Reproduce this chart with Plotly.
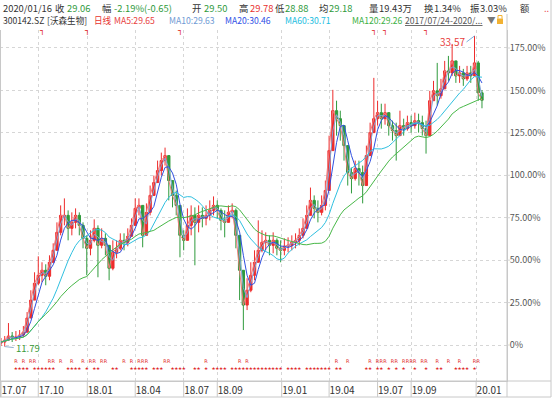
import pandas as pd
import plotly.graph_objects as go

# ---------------- data (weekly approximations) ----------------
BASE = 11.90  # reference price for the % axis
week_start = "2017-07-24"
n_weeks = 130

opens = [12.04, 12.11, 12.25, 12.53, 12.39, 12.46, 12.60, 12.81, 13.79, 15.05,
         16.23, 16.79, 17.14, 16.72, 17.70, 18.54, 19.80, 20.85, 20.99, 20.08,
         20.50, 20.99, 20.29, 19.38, 18.68, 19.24, 20.08, 18.89, 19.38, 18.89,
         17.28, 18.40, 18.68, 19.24, 19.10, 19.52, 20.29, 21.48, 21.69, 19.59,
         21.20, 22.39, 23.29, 24.13, 24.83, 25.18, 23.43, 22.39, 21.69, 19.59,
         19.24, 20.29, 20.99, 20.50, 20.99, 20.78, 20.99, 21.34, 21.69, 21.34,
         20.64, 20.50, 21.20, 21.34, 19.59, 17.14, 14.70, 15.74, 16.79, 17.70,
         18.54, 19.10, 19.24, 18.89, 19.24, 18.68, 18.54, 18.82, 18.89, 19.10,
         19.24, 19.59, 20.08, 20.99, 22.04, 21.48, 21.20, 21.69, 22.73, 25.53,
         28.33, 27.77, 27.28, 25.88, 23.99, 23.57, 24.27, 23.99, 23.08, 25.18,
         26.79, 27.77, 28.19, 27.77, 28.19, 27.28, 26.93, 26.58, 27.28, 27.07,
         27.49, 27.28, 27.63, 27.49, 27.07, 26.58, 29.03, 29.72, 29.38, 29.86,
         31.12, 30.98, 31.82, 30.77, 30.98, 30.56, 30.98, 30.77, 31.68, 29.58]
highs = [12.39, 12.53, 13.44, 12.81, 12.88, 12.95, 13.23, 14.21, 15.74, 17.00,
         18.12, 17.70, 17.56, 18.19, 19.03, 20.50, 21.69, 22.18, 21.34, 21.20,
         21.48, 21.20, 20.50, 19.59, 19.94, 20.71, 20.29, 20.08, 19.73, 18.40,
         19.24, 19.24, 19.73, 19.73, 20.08, 20.78, 22.18, 22.18, 21.34, 21.83,
         23.08, 23.78, 24.83, 25.39, 25.74, 24.83, 23.43, 22.73, 20.99, 19.94,
         21.48, 21.69, 21.55, 21.69, 21.55, 21.69, 22.04, 22.32, 22.04, 21.48,
         21.34, 21.69, 21.83, 21.48, 18.89, 16.09, 16.58, 17.70, 18.54, 20.64,
         19.94, 19.80, 19.59, 19.80, 19.38, 19.24, 19.38, 19.45, 19.59, 19.73,
         20.08, 20.78, 21.69, 22.94, 22.39, 22.04, 22.39, 23.43, 26.58, 29.79,
         29.03, 28.33, 27.28, 24.83, 24.34, 24.83, 24.83, 24.48, 25.88, 27.49,
         30.63, 29.03, 28.82, 28.82, 27.98, 27.63, 27.49, 28.33, 27.77, 27.98,
         27.98, 28.19, 28.12, 27.98, 27.63, 29.72, 30.42, 31.68, 30.56, 31.82,
         32.17, 33.01, 31.68, 31.47, 31.26, 31.47, 31.47, 33.57, 31.82, 29.78]
lows = [11.83, 11.79, 12.18, 12.11, 12.18, 12.25, 12.46, 12.74, 13.79, 15.05,
        16.09, 16.30, 16.09, 16.44, 17.70, 18.54, 19.59, 20.29, 19.24, 19.59,
        20.08, 19.59, 18.68, 16.79, 18.19, 19.10, 16.65, 18.68, 18.19, 16.44,
        17.14, 17.98, 18.54, 18.54, 18.82, 19.59, 20.50, 20.99, 18.75, 20.29,
        20.99, 22.39, 23.43, 23.78, 24.48, 22.04, 21.55, 20.99, 18.05, 18.54,
        19.24, 19.59, 17.49, 19.80, 20.15, 20.29, 20.64, 20.99, 20.78, 19.94,
        19.45, 20.50, 20.78, 18.68, 15.05, 12.95, 14.35, 15.60, 16.44, 17.70,
        18.40, 18.54, 18.19, 18.33, 18.19, 17.70, 18.19, 18.40, 18.54, 18.68,
        18.89, 19.38, 20.08, 20.99, 20.78, 20.50, 20.99, 21.34, 22.73, 25.88,
        26.58, 26.23, 24.83, 23.08, 22.53, 23.43, 23.08, 21.83, 24.13, 25.53,
        26.93, 27.28, 27.07, 27.35, 26.58, 26.23, 24.83, 26.58, 26.58, 26.93,
        26.79, 27.07, 26.79, 26.58, 25.32, 26.93, 29.03, 28.68, 29.17, 30.07,
        30.42, 30.77, 30.28, 30.28, 30.07, 30.42, 30.28, 31.12, 29.03, 28.50]
closes = [12.11, 12.25, 12.53, 12.39, 12.46, 12.60, 12.81, 13.79, 15.05, 16.23,
          16.79, 17.14, 16.72, 17.70, 18.54, 19.80, 20.99, 20.99, 20.08, 20.50,
          20.99, 20.29, 19.38, 18.68, 19.24, 20.08, 18.89, 19.38, 18.89, 17.28,
          18.40, 18.68, 19.24, 19.10, 19.52, 20.29, 21.48, 21.69, 19.59, 21.20,
          22.39, 23.29, 24.13, 24.83, 25.18, 23.43, 22.39, 21.69, 19.59, 19.24,
          20.29, 20.99, 20.50, 20.99, 20.78, 20.99, 21.34, 21.69, 21.34, 20.64,
          20.50, 21.20, 21.34, 19.59, 17.14, 14.70, 15.74, 16.79, 17.70, 18.54,
          19.10, 19.24, 18.89, 19.24, 18.68, 18.54, 18.82, 18.89, 19.10, 19.24,
          19.59, 20.08, 20.99, 22.04, 21.48, 21.20, 21.69, 22.73, 25.53, 28.33,
          27.77, 27.28, 25.88, 23.99, 23.57, 24.27, 23.99, 23.08, 25.18, 26.79,
          27.77, 28.19, 27.77, 28.19, 27.28, 26.93, 26.58, 27.28, 27.07, 27.49,
          27.28, 27.63, 27.49, 27.07, 26.58, 29.03, 29.72, 29.38, 29.86, 31.12,
          30.98, 31.82, 30.77, 30.98, 30.56, 30.98, 30.77, 31.68, 29.58, 29.06]

# moving averages (daily periods approximated in weeks)
ma_names = ["MA5", "MA10", "MA20", "MA60", "MA120"]
ma_weeks = [1, 2, 4, 12, 24]
ma_colors = ["#f27a7a", "#7fa6d8", "#3050e0", "#30c0e0", "#48b848"]

# event flags (week indices)
r_weeks = [4, 6, 8, 9, 13, 14, 16, 19, 22, 24, 25, 27, 28, 33, 35, 37, 38, 39, 44, 45,
           55, 64, 66, 90, 93, 99, 101, 102, 103, 105, 106, 108, 109, 110, 111, 113,
           114, 117, 120, 123, 127, 128]
star_weeks = [4, 5, 6, 7, 9, 10, 11, 12, 13, 14, 18, 19, 20, 21, 23, 25, 26, 30, 31,
              35, 36, 37, 38, 39, 41, 42, 43, 46, 47, 48, 49, 52, 53, 55, 57, 58, 59, 60,
              62, 63, 64, 65, 66, 67, 68, 69, 70, 71, 72, 73, 74, 75, 77, 78, 79, 80,
              82, 83, 84, 85, 86, 87, 88, 90, 91, 98, 99, 101, 102, 104, 106, 108,
              111, 114, 117, 118, 122, 123, 124, 125, 127]
info_weeks = [11, 23, 48, 100, 103, 114]

tick_dates = ["2017-07-24", "2017-10-02", "2018-01-02", "2018-04-02", "2018-07-02",
              "2018-09-03", "2019-01-02", "2019-04-01", "2019-07-01", "2019-09-02",
              "2020-01-02"]
tick_labels = ["17.07", "17.10", "18.01", "18.04", "18.07", "18.09", "19.01", "19.04",
               "19.07", "19.09", "20.01"]
y_ticks = [0, 25, 50, 75, 100, 125, 150, 175]
y_labels = ["0%", "25.00%", "50.00%", "75.00%", "100.00%", "125.00%", "150.00%", "175.00%"]

# ---------------- figure ----------------
weeks = pd.date_range(week_start, periods=n_weeks, freq="7D")


def pct(vals):
    return [(v / BASE - 1) * 100 for v in vals]


FONT = "Microsoft YaHei, Noto Sans CJK SC, Noto Sans, sans-serif"
RED = "#ee2c2c"
GREEN = "#2f9a3c"

fig = go.Figure()
fig.add_trace(go.Candlestick(
    x=weeks, open=pct(opens), high=pct(highs), low=pct(lows), close=pct(closes),
    increasing=dict(line=dict(color=RED, width=1), fillcolor=RED),
    decreasing=dict(line=dict(color=GREEN, width=1), fillcolor=GREEN),
    whiskerwidth=0, hoverinfo="skip", showlegend=False))

s = pd.Series(closes)
for name, w, c in zip(ma_names, ma_weeks, ma_colors):
    m = s.rolling(w, min_periods=1).mean()
    fig.add_trace(go.Scatter(x=weeks, y=pct(m), mode="lines", name=name,
                             line=dict(color=c, width=1), hoverinfo="skip",
                             showlegend=False))

# event rows
fig.add_trace(go.Scatter(x=[weeks[k] for k in r_weeks], y=[-10.0] * len(r_weeks),
                         mode="text", text=["R"] * len(r_weeks),
                         textfont=dict(color="#e02828", size=5, family="DejaVu Sans"),
                         hoverinfo="skip", showlegend=False))
fig.add_trace(go.Scatter(x=[weeks[k] for k in star_weeks], y=[-14.3] * len(star_weeks),
                         mode="text", text=["★"] * len(star_weeks),
                         textfont=dict(color="#e02828", size=4.6, family="DejaVu Sans"),
                         hoverinfo="skip", showlegend=False))

W, H = 554, 399
L, R, T, B = 0, 47, 30, 18
pw, ph = W - L - R, H - T - B


def px_x(p):
    return (p - L) / pw


def px_y(p):
    return (H - B - p) / ph


shapes = []
# separators in the date band
for d in tick_dates:
    shapes.append(dict(type="line", xref="x", yref="paper", x0=d, x1=d,
                       y0=0, y1=px_y(397), line=dict(color="#c8c8c8", width=1)))
# short dotted leaders from the grid to the % labels
for v in y_ticks:
    shapes.append(dict(type="line", xref="paper", yref="y", x0=1, x1=px_x(510),
                       y0=v, y1=v, line=dict(color="#d6d6d6", width=1, dash="dot")))
# frame lines
shapes.append(dict(type="line", xref="paper", yref="paper", x0=px_x(0), x1=px_x(551),
                   y0=px_y(397), y1=px_y(397), line=dict(color="#c8c8c8", width=1)))
shapes.append(dict(type="line", xref="paper", yref="paper", x0=px_x(0), x1=px_x(551),
                   y0=0, y1=0, line=dict(color="#c8c8c8", width=1)))
shapes.append(dict(type="line", xref="paper", yref="paper", x0=px_x(551), x1=px_x(551),
                   y0=px_y(397), y1=px_y(0), line=dict(color="#c8c8c8", width=1)))
shapes.append(dict(type="line", xref="paper", yref="paper", x0=1, x1=1,
                   y0=px_y(397), y1=px_y(14), line=dict(color="#c8c8c8", width=1)))
shapes.append(dict(type="line", xref="paper", yref="paper", x0=px_x(0.5), x1=px_x(0.5),
                   y0=px_y(397), y1=1, line=dict(color="#c8c8c8", width=1)))
# lock icon
shapes.append(dict(type="rect", xref="paper", yref="paper", x0=px_x(497), x1=px_x(503),
                   y0=px_y(24), y1=px_y(18.5), fillcolor="#f2b233", line=dict(width=0)))
shapes.append(dict(type="path", xref="paper", yref="paper",
                   path=f"M {px_x(498)} {px_y(18.5)} L {px_x(498)} {px_y(15.5)} L {px_x(502)} {px_y(15.5)} L {px_x(502)} {px_y(18.5)}",
                   line=dict(color="#f2b233", width=1)))

ann = []
# header rows
GRAY = "#333333"
GR = "#2f9a3c"
RD = "#e8332f"
row1 = [(1, "2020/01/16", GRAY), (53, "收", GRAY), (65, "29.06", GR),
        (100, "幅", GRAY), (112, "-2.19%(-0.65)", GR), (190, "开", GRAY), (202, "29.50", GR),
        (237, "高", GRAY), (248, "29.78", RD), (273, "低", GRAY), (283, "28.88", GR),
        (317, "均", GRAY), (327, "29.18", GR), (367, "量", GRAY), (377, "19.43万", GRAY),
        (422, "换", GRAY), (432, "1.34%", GRAY), (468, "振", GRAY), (478, "3.03%", GRAY),
        (518, "额", GRAY), (542, "..", RD)]
for xp, t, c in row1:
    ann.append(dict(xref="paper", yref="paper", x=px_x(xp), y=px_y(7.5), text=t,
                    showarrow=False, xanchor="left", yanchor="middle",
                    font=dict(family=FONT, size=9.4, color=c)))
row2 = [(1, "300142.SZ", GRAY), (45, "[沃森生物]", GRAY), (92, "日线", RD),
        (112, "MA5:29.65", "#e8413e"), (167, "MA10:29.63", "#6f9ad4"),
        (223, "MA20:30.46", "#3050e6"), (283, "MA60:30.71", "#22bde0"),
        (350, "MA120:29.26", "#3cb043"), (403, "<u>2017/07/24-2020/...</u>", "#555555"),
        (485, "▼", "#777777")]
for xp, t, c in row2:
    ann.append(dict(xref="paper", yref="paper", x=px_x(xp), y=px_y(20.5), text=t,
                    showarrow=False, xanchor="left", yanchor="middle",
                    font=dict(family=FONT, size=8.6, color=c)))
# info mine flags
for k in info_weeks:
    ann.append(dict(xref="x", yref="paper", x=weeks[k], y=px_y(31), text="┐",
                    showarrow=False, xanchor="center", yanchor="middle",
                    font=dict(family="DejaVu Sans", size=8, color="#e02020")))
# low / high labels
ann.append(dict(x=weeks[1], y=pct([min(lows)])[0], text="11.79", showarrow=True,
                arrowhead=0, arrowcolor="#8fb0d0", arrowwidth=1, ax=9, ay=1,
                xanchor="left", yanchor="middle",
                font=dict(family=FONT, size=9.5, color="#3a9a3a")))
ann.append(dict(x=weeks[127], y=pct([max(highs)])[0], text="33.57", showarrow=True,
                arrowhead=0, arrowcolor="#7ab0e0", arrowwidth=1, ax=-8, ay=6,
                xanchor="right", yanchor="middle",
                font=dict(family=FONT, size=10, color="#e8413e")))

fig.update_layout(
    width=W, height=H, margin=dict(l=L, r=R, t=T, b=B, autoexpand=False),
    paper_bgcolor="white", plot_bgcolor="white",
    showlegend=False, hovermode=False, boxgap=0.1,
    shapes=shapes, annotations=ann,
    xaxis=dict(type="date", range=["2017-07-22 03:00", "2020-02-29"],
               rangeslider=dict(visible=False), automargin=False,
               tickvals=tick_dates, ticktext=tick_labels, tickangle=0,
               ticklabelposition="outside right", ticks="",
               showgrid=True, gridcolor="#d6d6d6", griddash="dot", gridwidth=1,
               showline=True, linecolor="#c8c8c8", linewidth=1,
               zeroline=False, fixedrange=True,
               tickfont=dict(family=FONT, size=10, color="#333333")),
    yaxis=dict(side="right", range=[-21.2, 185.6], automargin=False,
               tickvals=y_ticks, ticktext=y_labels, ticks="",
               showgrid=True, gridcolor="#d6d6d6", griddash="dot", gridwidth=1,
               showline=True, linecolor="#c8c8c8", linewidth=1,
               zeroline=False, fixedrange=True,
               tickfont=dict(family=FONT, size=9, color="#555555")),
)

fig.write_html("out.html", config={"displayModeBar": False},
               post_script="document.body.style.margin='0';document.body.style.overflow='hidden';")
